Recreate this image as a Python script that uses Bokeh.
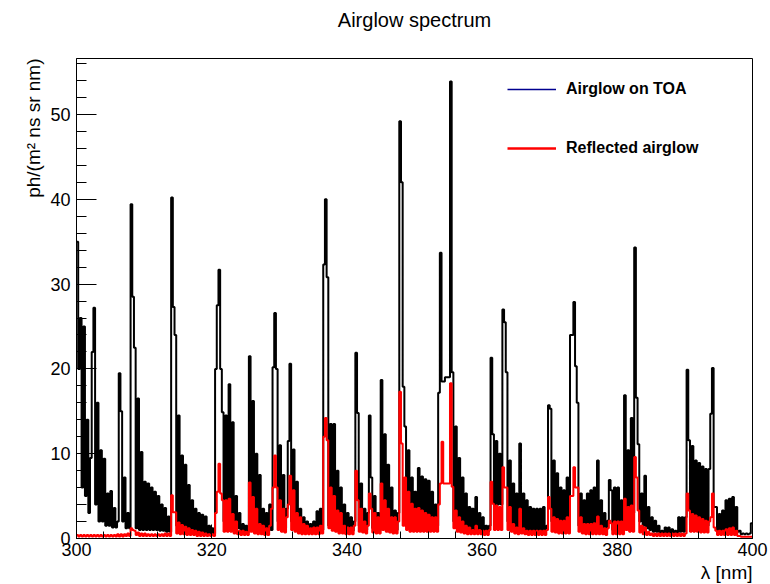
import numpy as np
from bokeh.plotting import figure
from bokeh.models import Range1d, FixedTicker, Title, Legend, LegendItem
from bokeh.embed import file_html
from bokeh.resources import INLINE

# Histogram binning: 0.25 nm bins from 300 to 400 nm
lam_min = 300.0
lam_max = 400.0
bin_width = 0.25

# Airglow on top of atmosphere, ph/(m^2 ns sr nm), one value per 0.25 nm bin
toa = [
    35, 20, 26, 6, 25, 5, 14, 3, 9.5, 22, 27.2, 4, 16, 2, 10.4, 2, 9.4, 1.5, 5.3, 1.5,                  # 300-305
    5.6, 1.3, 3.6, 1.3, 2, 19.5, 15, 2, 7.2, 1.2, 3, 1.2, 39.4, 28.5, 22.5, 1.2, 16.5, 1, 10.2, 1,       # 305-310
    6.7, 1, 6.5, 1, 6, 1, 5.5, 1, 5, 0.9, 4, 0.9, 3.6, 0.8, 2.6, 0.8, 40.2, 27.3, 24, 1.5,               # 310-315
    14.5, 1.2, 9.8, 1, 8.7, 1, 6.3, 1, 4.5, 0.8, 3.5, 0.8, 3, 0.7, 2.8, 0.7, 2.6, 0.6, 1.5, 0.6,          # 315-320
    1.2, 0.6, 20, 27.5, 31.7, 20, 14.9, 2, 14.5, 2, 18.2, 2, 13.7, 1.5, 5, 1.2, 3, 1, 1.7, 0.8,           # 320-325
    1.5, 0.8, 21.5, 1.5, 16.2, 1.2, 10, 1, 7.5, 1, 3.5, 0.9, 3, 0.9, 4, 1, 20.2, 26.6, 20, 2,            # 325-330
    11, 1.5, 7.5, 1.2, 3.5, 11.5, 20.6, 2, 10.5, 1.2, 6.7, 1, 3.5, 0.9, 2.5, 0.8, 2, 0.8, 1.7, 0.8,       # 330-335
    2, 0.8, 3.2, 1, 3.5, 1, 32.3, 40, 30.8, 1.5, 13.5, 1.2, 13.5, 1.2, 8, 1, 6, 1, 4, 0.9,               # 335-340
    3, 0.9, 2.5, 0.9, 2, 21.9, 14.8, 1.5, 6.5, 1.2, 3.5, 1, 3, 14.5, 7.2, 1.2, 5, 1, 3, 1,               # 340-345
    18.7, 1.5, 12.3, 1.2, 8.7, 1, 6, 1, 3.3, 1, 3, 49.2, 42, 17.9, 13.2, 1.5, 10.4, 1.2, 7.2, 1,         # 345-350
    5.5, 1.2, 8.3, 1.2, 7.3, 1.2, 7, 1.2, 6.8, 1.2, 5.5, 1.2, 4, 1.5, 17.2, 33.7, 18.5, 18.5, 19, 19,    # 350-355
    19, 53.9, 19.6, 2, 13.2, 1.5, 9.5, 1.2, 7.2, 1, 5.3, 1, 3.7, 1, 3.5, 1, 4.9, 1, 3, 0.8,              # 355-360
    2.5, 0.8, 1.5, 0.8, 1.5, 21.3, 12.3, 4, 11.5, 4, 10, 4, 27, 25.5, 19.6, 2, 9.2, 1.5, 6.5, 1.2,       # 360-365
    5.3, 1.2, 11.2, 1.2, 5.3, 1, 4.5, 1, 3.7, 1, 3.5, 1, 3.5, 1, 3.5, 1, 3.7, 1, 1.5, 15.7,              # 365-370
    15.3, 2, 9.2, 1.5, 7.7, 1.2, 6, 1.2, 5.7, 1.2, 7.2, 1.2, 24, 24, 27.9, 20.3, 16, 1.5, 5.3, 1.2,      # 370-375
    4.5, 1.2, 5.3, 1.2, 5.7, 1.2, 6, 1.2, 9.2, 1.2, 4.5, 1, 3, 1, 2.1, 6.9, 5.7, 1, 6, 1,                # 375-380
    6, 1, 4.5, 1, 16.9, 3, 10.4, 3, 14.2, 3, 34.3, 16.6, 11.1, 2, 5.3, 1.5, 7.4, 1.2, 3.7, 1,            # 380-385
    2.5, 0.8, 2.1, 0.8, 1.5, 0.6, 0.9, 0.6, 1.3, 0.6, 1.3, 0.6, 1.1, 0.6, 0.9, 0.6, 2.5, 0.8, 2.5, 0.8,  # 385-390
    2.5, 19.9, 11.6, 1.5, 10.9, 1.5, 9.2, 1.5, 8.9, 1.5, 8.5, 1.5, 8.2, 1.5, 8.2, 14.7, 20.1, 3.7, 3.7, 1,  # 390-395
    2.9, 1, 3.3, 1, 4.5, 1, 4.7, 1, 4.9, 1, 3.7, 0.8, 0.9, 0.5, 0.6, 0.5, 0.6, 0.5, 0.6, 1.8,            # 395-400
]

# Reflected airglow, same binning
reflected = [
    0.4, 0.25, 0.4, 0.25, 0.4, 0.25, 0.4, 0.25, 0.4, 0.25, 0.4, 0.25, 0.4, 0.25, 0.4, 0.25, 0.4, 0.25, 0.4, 0.25,  # 300-305
    0.4, 0.25, 0.4, 0.25, 0.5, 0.25, 0.5, 0.25, 0.5, 0.3, 0.6, 0.3, 1.2, 1.0, 0.9, 0.4, 0.7, 0.3, 0.6, 0.3,        # 305-310
    0.6, 0.3, 0.5, 0.3, 0.5, 0.3, 0.5, 0.3, 0.5, 0.3, 0.5, 0.3, 0.6, 0.3, 0.6, 0.3, 5.1, 3.1, 3.1, 0.6,            # 310-315
    1.9, 0.5, 1.6, 0.5, 1.4, 0.4, 1.2, 0.4, 1, 0.4, 0.9, 0.3, 0.8, 0.3, 0.7, 0.3, 0.6, 0.3, 0.5, 0.3,              # 315-320
    0.5, 0.3, 3, 5.5, 8.8, 5.3, 4.5, 0.8, 4.5, 0.8, 4.7, 0.8, 2.9, 0.6, 2, 0.5, 0.9, 0.4, 0.9, 0.4,                # 320-325
    0.8, 0.4, 6.6, 0.8, 4.9, 0.6, 3.5, 0.5, 1.7, 0.5, 1.5, 0.4, 1.2, 0.4, 1.5, 3.5, 6, 9.8, 6, 1,                  # 325-330
    4.5, 0.8, 3.5, 0.7, 2.5, 4, 7.4, 1, 5.7, 0.8, 3, 0.6, 2.5, 0.5, 1.7, 0.5, 1.5, 0.5, 1.2, 0.5,                  # 330-335
    1.3, 0.5, 1.3, 0.5, 1.5, 0.6, 12, 14.2, 11.6, 1.2, 6, 0.9, 5, 0.8, 3.3, 0.6, 3, 0.6, 1.5, 0.5,                 # 335-340
    1.3, 0.5, 1.3, 0.5, 1.5, 8, 4.5, 0.8, 3.5, 0.7, 2, 0.6, 1.5, 5.3, 3.5, 0.7, 3, 0.6, 2.5, 0.6,                  # 340-345
    6.5, 1, 4.5, 0.8, 3.5, 0.7, 2.5, 0.6, 2.5, 0.6, 2, 17.3, 11.2, 1.5, 7.2, 1, 5.5, 0.8, 4.1, 0.8,                # 345-350
    3.5, 0.8, 3.6, 0.8, 3.3, 0.8, 3, 0.8, 2.8, 0.8, 2.5, 0.8, 2.5, 0.8, 4, 6.5, 11.4, 6.5, 6.5, 6.5,               # 350-355
    6.5, 18.3, 6.1, 1.2, 3.3, 0.8, 2.5, 0.7, 2, 0.6, 1.5, 0.5, 1.3, 0.5, 1, 0.5, 1.5, 0.5, 1, 0.5,                 # 355-360
    0.9, 0.4, 0.9, 0.4, 1, 6.7, 4.1, 1, 3.9, 1, 3.7, 1, 8.4, 6, 6, 1, 3.7, 0.8, 1.7, 0.6,                          # 360-365
    1.3, 0.5, 3.5, 0.6, 1.2, 0.5, 0.9, 0.4, 0.9, 0.4, 0.9, 0.4, 0.9, 0.4, 0.9, 0.4, 0.9, 0.4, 1, 4.9,              # 365-370
    3.5, 0.8, 2.5, 0.7, 2.3, 0.6, 2.1, 0.6, 2.1, 0.6, 2.5, 0.6, 5, 5, 8.4, 6, 6, 0.8, 2.5, 0.6,                    # 370-375
    1.7, 0.5, 1.7, 0.5, 1.7, 0.5, 1.8, 0.5, 2.6, 0.5, 1.5, 0.5, 1.2, 0.4, 1.2, 2.1, 1.8, 0.5, 2, 0.5,              # 375-380
    2, 0.5, 2, 0.5, 4.7, 1, 3.7, 0.8, 3.9, 0.8, 9.6, 7.2, 3.3, 0.7, 1.5, 0.5, 1.3, 0.4, 0.8, 0.4,                  # 380-385
    0.6, 0.3, 0.6, 0.3, 0.6, 0.3, 0.6, 0.3, 0.6, 0.3, 0.6, 0.3, 0.6, 0.3, 0.6, 0.3, 0.6, 0.3, 0.6, 0.3,            # 385-390
    0.6, 5.3, 3.3, 0.8, 2.9, 0.8, 2.7, 0.8, 2.5, 0.7, 2.3, 0.7, 2.1, 0.7, 2, 2.5, 5.3, 1.3, 0.9, 0.4,              # 390-395
    0.9, 0.4, 0.9, 0.4, 1.1, 0.4, 1.2, 0.4, 1.3, 0.4, 0.9, 0.3, 0.3, 0.2, 0.2, 0.2, 0.2, 0.2, 0.2, 0.2,            # 395-400
]

x_ticks = [300, 320, 340, 360, 380, 400]
y_ticks = [0, 10, 20, 30, 40, 50]
y_max = 56.6

title_text = "Airglow spectrum"
x_label = "λ [nm]"
y_label = "ph/(m² ns sr nm)"
series_names = ["Airglow on TOA", "Reflected airglow"]

FONT = "Liberation Sans"

edges = np.arange(lam_min, lam_max + bin_width / 2, bin_width)
toa_y = list(toa) + [toa[-1]]
ref_y = list(reflected) + [reflected[-1]]

p = figure(width=770, height=584, output_backend="svg", toolbar_location=None,
           x_range=Range1d(lam_min, lam_max), y_range=Range1d(0, y_max),
           min_border_left=76, min_border_right=18, min_border_top=58, min_border_bottom=46)
p.background_fill_color = "white"
p.border_fill_color = "white"
p.outline_line_color = "black"
p.outline_line_width = 1
p.outline_line_alpha = 1
p.xgrid.visible = False
p.ygrid.visible = False

# Real title (outermost) and a blank spacer between it and the frame
p.title.text = title_text
p.title.align = "center"
p.title.vertical_align = "top"
p.title.standoff = 0
p.title.text_font = FONT
p.title.text_font_size = "20px"
p.title.text_font_style = "normal"
p.title.text_color = "black"
p.add_layout(Title(text=" ", text_font=FONT, text_font_size="20px", standoff=2), "above")

# Axes
p.xaxis.ticker = FixedTicker(ticks=x_ticks, minor_ticks=list(range(300, 401, 4)))
p.yaxis.ticker = FixedTicker(ticks=y_ticks, minor_ticks=list(range(0, 57, 2)))
for ax in (p.xaxis[0], p.yaxis[0]):
    ax.axis_line_color = "black"
    ax.major_tick_line_color = "black"
    ax.minor_tick_line_color = "black"
    ax.major_label_text_font = FONT
    ax.major_label_text_font_size = "18px"
    ax.major_label_text_color = "black"
    ax.major_tick_out = 0
    ax.minor_tick_out = 0
p.xaxis.major_tick_in = 14
p.xaxis.minor_tick_in = 7
p.yaxis.major_tick_in = 20
p.yaxis.minor_tick_in = 10
p.xaxis.major_label_standoff = 4
p.yaxis.major_label_standoff = 6

p.add_layout(Title(text=y_label, align="right", text_font=FONT, text_font_size="19px",
                   text_font_style="normal", text_color="black", standoff=8), "left")
p.add_layout(Title(text=x_label, align="right", text_font=FONT, text_font_size="19px",
                   text_font_style="normal", text_color="black", standoff=2), "below")

# Histograms
r_toa = p.step(edges, toa_y, mode="after", line_color="black", line_width=2)
r_ref = p.step(edges, ref_y, mode="after", line_color="#ff0000", line_width=2)

# Legend proxies (ROOT legend shows a blue line for the TOA entry); one point draws nothing
proxy_toa = p.line(x=edges[:1], y=toa_y[:1], line_color="#000090", line_width=1.3)
proxy_ref = p.line(x=edges[:1], y=ref_y[:1], line_color="#ff0000", line_width=2.5)

legend = Legend(items=[LegendItem(label=series_names[0], renderers=[proxy_toa]),
                       LegendItem(label=series_names[1], renderers=[proxy_ref])],
                location=(431, 380), orientation="vertical",
                glyph_width=49, glyph_height=20, label_height=20, spacing=39,
                label_standoff=10, padding=0, margin=0,
                label_text_font=FONT, label_text_font_size="16px",
                label_text_font_style="bold", label_text_color="black",
                border_line_alpha=0, background_fill_alpha=0)
p.add_layout(legend, "center")

open("out.html", "w").write(file_html(p, INLINE))
